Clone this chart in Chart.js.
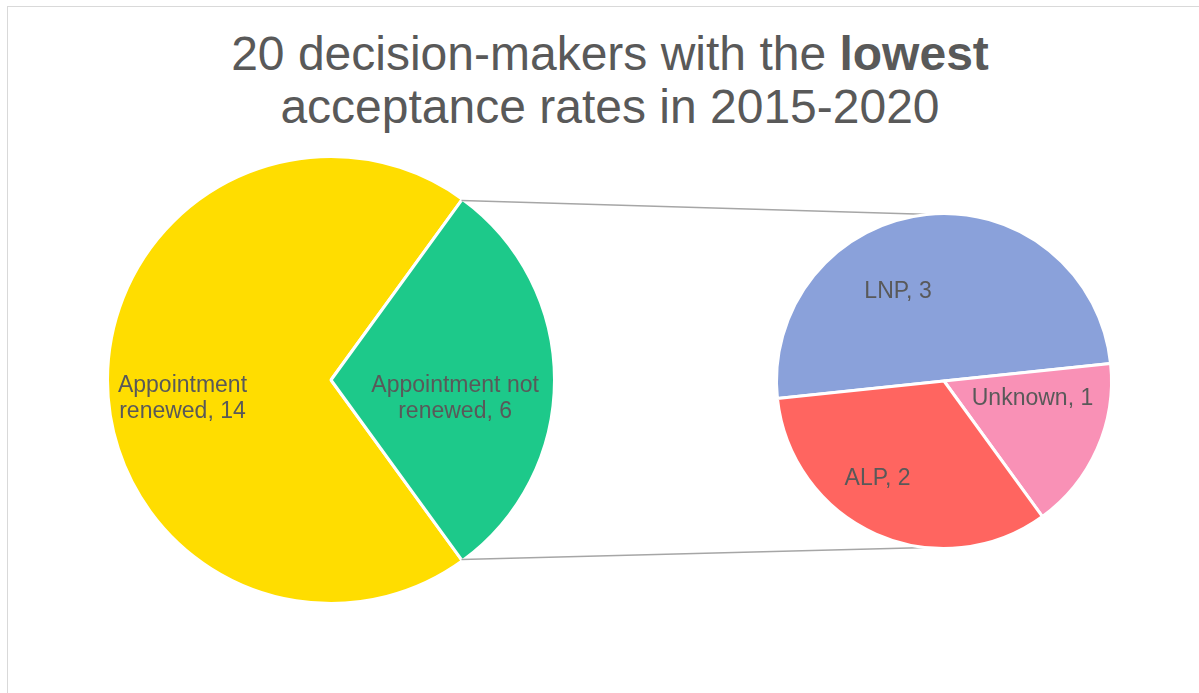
<!DOCTYPE html>
<html>
<head>
<meta charset="utf-8">
<title>20 decision-makers with the lowest acceptance rates in 2015-2020</title>
<script src="https://cdn.jsdelivr.net/npm/chart.js@4.4.1/dist/chart.umd.min.js"></script>
<style>
    html, body { margin: 0; padding: 0; background: #fff; overflow: hidden; }
    #wrap { position: relative; width: 1199px; height: 693px; overflow: hidden; font-family: 'Liberation Sans', Arial, sans-serif; }
    #frame { position: absolute; left: 7px; top: 6px; width: 1300px; height: 800px; border: 1px solid #d9d9d9; }
    #title { position: absolute; left: 0; top: 27px; width: 1220px; text-align: center; font-size: 48px; line-height: 53px; color: #595959; }
    canvas { position: absolute; left: 0; top: 0; }
</style>
</head>
<body>
<div id="wrap">
    <div id="frame"></div>
    <div id="title">20 decision-makers with the <b>lowest</b><br>acceptance rates in 2015-2020</div>
    <canvas id="mainPie" width="1199" height="693"></canvas>
    <canvas id="splitPie" width="1199" height="693"></canvas>
</div>
<script>
// Main pie
const mainLabels = ['Appointment renewed', 'Appointment not renewed'];
const mainValues = [14, 6];
const mainColors = ['#FFDD00', '#1DC98A'];

// Split-out pie (breakdown of "not renewed")
const splitLabels = ['LNP', 'Unknown', 'ALP'];
const splitValues = [3, 1, 2];
const splitColors = ['#8AA1DA', '#F991B6', '#FF6560'];

// Label anchors, as fractions of the pie radius from its centre
const mainLabelPos = [[-0.669, 0.075], [0.559, 0.075]];
const splitLabelPos = [[-0.277, -0.551], [0.533, 0.096], [-0.40, 0.578]];

const FONT = '"Liberation Sans", Arial, sans-serif';

function wrapText(ctx, text, maxWidth) {
    const words = text.split(' ');
    const lines = [];
    let line = '';
    words.forEach(w => {
        const test = line ? line + ' ' + w : w;
        if (line && ctx.measureText(test).width > maxWidth) {
            lines.push(line);
            line = w;
        } else {
            line = test;
        }
    });
    if (line) lines.push(line);
    return lines;
}

// Draws "Category, value" inside each slice
const sliceLabels = {
    id: 'sliceLabels',
    afterDatasetsDraw(chart, args, opts) {
        const ctx = chart.ctx;
        const ds = chart.data.datasets[0];
        const meta = chart.getDatasetMeta(0);
        ctx.save();
        ctx.font = '23px ' + FONT;
        ctx.fillStyle = '#595959';
        ctx.textAlign = 'center';
        ctx.textBaseline = 'alphabetic';
        const lh = 26, cap = 16.5;
        meta.data.forEach((arc, i) => {
            const r = arc.outerRadius - 1.5;
            const lines = wrapText(ctx, chart.data.labels[i] + ', ' + ds.data[i], opts.maxWidth);
            const cx = arc.x + opts.pos[i][0] * r;
            const cy = arc.y + opts.pos[i][1] * r;
            const first = cy - (lines.length - 1) * lh / 2 + cap / 2;
            lines.forEach((l, j) => ctx.fillText(l, cx, first + j * lh));
        });
        ctx.restore();
    }
};

const mainChart = new Chart(document.getElementById('mainPie'), {
    type: 'pie',
    data: {
        labels: mainLabels,
        datasets: [{
            data: mainValues,
            backgroundColor: mainColors,
            borderColor: '#ffffff',
            borderWidth: 3,
            rotation: 144,
            radius: 223.5
        }]
    },
    options: {
        responsive: false,
        animation: false,
        events: [],
        rotation: 144,
        radius: 223.5,
        layout: { padding: { left: 101, right: 638, top: 150, bottom: 83 } },
        plugins: {
            legend: { display: false },
            tooltip: { enabled: false },
            sliceLabels: { pos: mainLabelPos, maxWidth: 180 }
        }
    },
    plugins: [sliceLabels]
});

// Lines from the "not renewed" slice tips to tangents of the second pie
const connectors = {
    id: 'connectors',
    beforeDatasetsDraw(chart) {
        const src = mainChart.getDatasetMeta(0).data[1];
        const dst = chart.getDatasetMeta(0).data[0];
        const R = src.outerRadius - 1.5;
        const r = dst.outerRadius - 1.5;
        const ctx = chart.ctx;
        ctx.save();
        ctx.strokeStyle = '#a6a6a6';
        ctx.lineWidth = 1.5;
        ctx.beginPath();
        [src.startAngle, src.endAngle].forEach(a => {
            const p = { x: src.x + R * Math.cos(a), y: src.y + R * Math.sin(a) };
            const dx = p.x - dst.x, dy = p.y - dst.y;
            const base = Math.atan2(dy, dx);
            const spread = Math.acos(r / Math.hypot(dx, dy));
            const cands = [base + spread, base - spread].map(t => ({
                x: dst.x + r * Math.cos(t), y: dst.y + r * Math.sin(t)
            }));
            const upper = p.y < dst.y;
            const t = upper
                ? (cands[0].y < cands[1].y ? cands[0] : cands[1])
                : (cands[0].y > cands[1].y ? cands[0] : cands[1]);
            ctx.moveTo(p.x, p.y);
            ctx.lineTo(t.x, t.y);
        });
        ctx.stroke();
        ctx.restore();
    }
};

const splitChart = new Chart(document.getElementById('splitPie'), {
    type: 'pie',
    data: {
        labels: splitLabels,
        datasets: [{
            data: splitValues,
            backgroundColor: splitColors,
            borderColor: '#ffffff',
            borderWidth: 3,
            rotation: -96,
            radius: 167.5
        }]
    },
    options: {
        responsive: false,
        animation: false,
        events: [],
        rotation: -96,
        radius: 167.5,
        layout: { padding: { left: 764, right: 75, top: 201, bottom: 132 } },
        plugins: {
            legend: { display: false },
            tooltip: { enabled: false },
            sliceLabels: { pos: splitLabelPos, maxWidth: 180 }
        }
    },
    plugins: [connectors, sliceLabels]
});
</script>
</body>
</html>
